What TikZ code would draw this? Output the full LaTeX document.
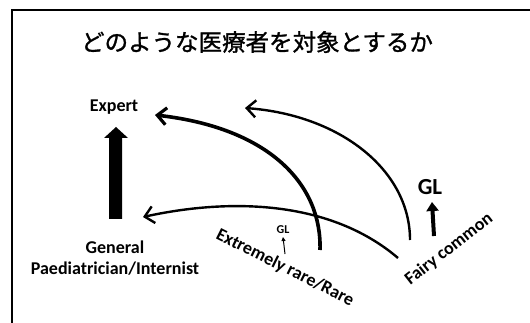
\documentclass[tikz,border=0pt]{standalone}
\usepackage{fontspec}
\setmainfont{Carlito}
\newfontfamily\jpfont[FakeBold=1.2]{Noto Sans CJK JP}
\usetikzlibrary{arrows.meta}
\begin{document}
\begin{tikzpicture}[x=1pt,y=-1pt,
  lbl/.style={font=\bfseries\fontsize{18}{21}\selectfont, inner sep=0pt, align=center},
  curve/.style={line width=2.4pt, -{Straight Barb[length=9pt,width=17pt,line width=2.4pt]}},
  thickcurve/.style={line width=3.6pt, -{Straight Barb[length=9pt,width=17pt,line width=3.2pt]}}]
\useasboundingbox (0,0) rectangle (530,323);
\draw[line width=2pt] (12,323) -- (12,10.5) -- (530,10.5);
\node[inner sep=0pt, font=\jpfont\fontsize{23.5}{28}\selectfont] (title) at (257,42) {どのような医療者を対象とするか};
\node[lbl] (expert) at (114,107) {Expert};
\node[lbl] (general) at (115,258) {General\\[0pt]Paediatrician/Internist};
\node[lbl, rotate=-26.5] (rare) at (285,268) {Extremely rare/Rare};
\node[lbl, rotate=38] (fairy) at (449,249) {Fairy common};
\node[font=\bfseries\fontsize{23}{26}\selectfont, inner sep=0pt] (gl) at (430,187) {GL};
\node[font=\bfseries\fontsize{12}{14}\selectfont, inner sep=0pt] (gls) at (283,230) {GL};
% big block arrow
\fill (109,219) -- (109,138) -- (104,138) -- (116,127) -- (128,138) -- (122,138) -- (122,219) -- cycle;
\coordinate (a0) at (398,258);
\coordinate (a1) at (143,217);
\coordinate (b0) at (320,250);
\coordinate (b1) at (155,115);
\coordinate (c0) at (410,240);
\coordinate (c1) at (245,108);
\draw[curve] (a0) .. controls (330,200) and (230,198) .. (a1);
\draw[thickcurve] (b0) .. controls (322,185) and (270,128) .. (b1);
\draw[curve] (c0) .. controls (410,170) and (340,115) .. (c1);
\coordinate (g0) at (434,236);
\coordinate (g1) at (432,202);
\draw[line width=4pt, -{Triangle[length=9pt,width=12pt]}] (g0) -- (g1);
\coordinate (s0) at (285,254);
\coordinate (s1) at (283,237);
\draw[line width=1pt, -{Triangle[length=4pt,width=4pt]}] (s0) -- (s1);
\end{tikzpicture}
\end{document}
